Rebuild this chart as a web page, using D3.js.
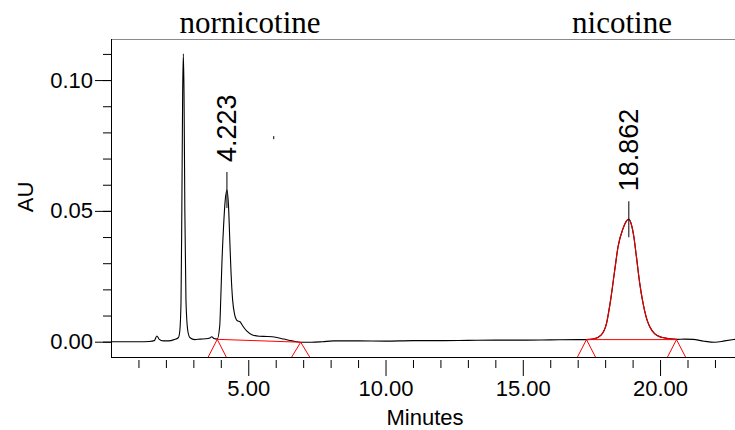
<!DOCTYPE html>
<html>
<head>
    <meta charset="utf-8">
    <style>
        body { margin: 0; background: white; }
        svg { display: block; background: white; }
        .axis text { font-family: 'Liberation Sans', Arial, sans-serif; font-size: 22px; fill: #000; }
        .axis line { stroke: #000; }
    </style>
</head>
<body>
    <svg width="735" height="430" id="chart"></svg>

<script src="https://d3js.org/d3.v7.min.js"></script>
<script>
    // chromatogram trace (minutes, AU)
    const times = [0.00, 0.50, 1.00, 1.40, 1.58, 1.67, 1.75, 1.90, 2.10, 2.30, 2.45, 2.50, 2.55, 2.58, 2.61, 2.635, 2.66, 2.69, 2.73, 2.80, 2.88,
        3.05, 3.25, 3.45, 3.60, 3.67, 3.75, 3.87, 3.96, 4.00, 4.04, 4.10, 4.16, 4.223, 4.28, 4.33, 4.37, 4.43, 4.50, 4.60, 4.70, 4.80, 4.95,
        5.15, 5.40, 5.70, 6.00, 6.30, 6.60, 6.91, 7.30, 7.70, 8.10, 9.00, 10.00, 11.00, 12.00, 13.00, 14.00, 15.00, 16.00, 17.00, 17.32,
        17.60, 17.85, 18.05, 18.20, 18.35, 18.47, 18.65, 18.78, 18.862, 18.95, 19.04, 19.14, 19.26, 19.38, 19.50, 19.62, 19.81, 20.05,
        20.30, 20.60, 20.90, 21.20, 21.60, 22.00, 22.35, 22.73]
    const absorb = [0.0000, 0.0000, 0.0000, 0.0001, 0.0004, 0.0022, 0.0010, 0.0003, 0.0003, 0.0008, 0.0015, 0.0035, 0.0150, 0.0500, 0.0950, 0.1100, 0.0950, 0.0500, 0.0160, 0.0040, 0.0015,
        0.0008, 0.0010, 0.0011, 0.0014, 0.0019, 0.0012, 0.0010, 0.0060, 0.0170, 0.0300, 0.0440, 0.0540, 0.0580, 0.0520, 0.0380, 0.0270, 0.0160, 0.0105, 0.0080, 0.0076, 0.0060, 0.0040,
        0.0026, 0.0021, 0.0020, 0.0017, 0.0010, 0.0003, -0.0002, -0.0002, 0.0000, 0.0003, 0.0003, 0.0002, 0.0004, 0.0004, 0.0005, 0.0006, 0.0006, 0.0007, 0.0008, 0.0008,
        0.0011, 0.0025, 0.0070, 0.0160, 0.0274, 0.0363, 0.0432, 0.0462, 0.0468, 0.0450, 0.0405, 0.0324, 0.0223, 0.0147, 0.0092, 0.0058, 0.0030, 0.0017,
        0.0012, 0.0009, 0.0010, 0.0009, 0.0002, -0.0002, 0.0003, 0.0009]

    // labelled peaks
    const peakTimes = [4.223, 18.862]
    const peakLabels = ["4.223", "18.862"]

    // integration baselines: start/end time and AU
    const baseStart = [3.87, 17.32]
    const baseEnd = [6.91, 20.60]
    const baseStartAU = [0.0009, 0.0008]
    const baseEndAU = [-0.0002, 0.0008]

    // compound names over the peaks
    const compoundNames = ["nornicotine", "nicotine"]

    const xMajorTicks = [5, 10, 15, 20]
    const xMinorTicks = d3.range(1, 23)
    const yMajorTicks = [0.00, 0.05, 0.10]
    const yMinorTicks = [0.00, 0.01, 0.02, 0.03, 0.04, 0.05, 0.06, 0.07, 0.08, 0.09, 0.10, 0.11]

    // stray dot printed on the original
    const strayMark = [5.91, 0.078]

    let data = times.map((t, i) => ({ t: t, v: absorb[i] }))

    let svg = d3.select("#chart")
    let margin = { top: 39, right: 0, bottom: 73, left: 111 },
        width = 735 - margin.left - margin.right,
        height = 430 - margin.top - margin.bottom

    let x = d3.scaleLinear()
        .domain([0, 22.73])
        .range([margin.left, margin.left + width])

    let y = d3.scaleLinear()
        .domain([-0.00585, 0.1157])
        .range([margin.top + height, margin.top])

    let bottom = margin.top + height

    // y axis: minor then major ticks
    svg.append("g")
        .attr("class", "axis")
        .attr("transform", `translate(${margin.left},0)`)
        .call(d3.axisLeft(y).tickValues(yMinorTicks).tickSize(8).tickFormat(""))
        .call(g => g.select(".domain").remove())

    svg.append("g")
        .attr("class", "axis")
        .attr("transform", `translate(${margin.left},0)`)
        .call(d3.axisLeft(y).tickValues(yMajorTicks).tickSize(16).tickPadding(2).tickFormat(d3.format(".2f")))
        .call(g => g.select(".domain").remove())

    // x axis: ticks hang a little below the frame
    svg.append("g")
        .attr("class", "axis")
        .attr("transform", `translate(0,${bottom})`)
        .call(d3.axisBottom(x).tickValues(xMinorTicks.filter(d => d % 5 != 0)).tickSize(11).tickFormat(""))
        .call(g => g.select(".domain").remove())
        .call(g => g.selectAll("line").attr("y1", 3))

    svg.append("g")
        .attr("class", "axis")
        .attr("transform", `translate(0,${bottom})`)
        .call(d3.axisBottom(x).tickValues(xMajorTicks).tickSize(19).tickPadding(4).tickFormat(d3.format(".2f")))
        .call(g => g.select(".domain").remove())
        .call(g => g.selectAll("line").attr("y1", 3))

    // frame
    svg.append("line")
        .attr("x1", margin.left).attr("x2", margin.left + width)
        .attr("y1", margin.top + 0.5).attr("y2", margin.top + 0.5)
        .style("stroke", "#8a8a8a")
    svg.append("line")
        .attr("x1", margin.left + 0.5).attr("x2", margin.left + 0.5)
        .attr("y1", margin.top).attr("y2", bottom)
        .style("stroke", "#000")
    svg.append("line")
        .attr("x1", margin.left).attr("x2", margin.left + width)
        .attr("y1", bottom + 0.5).attr("y2", bottom + 0.5)
        .style("stroke", "#000")

    let line = d3.line()
        .x(d => x(d.t))
        .y(d => y(d.v))
        .curve(d3.curveMonotoneX)

    // trace
    svg.append("path")
        .datum(data)
        .attr("d", line)
        .style("fill", "none")
        .style("stroke", "#000")
        .style("stroke-width", 1.1)

    // integrated nicotine peak drawn over in red
    svg.append("path")
        .datum(data.filter(d => d.t >= baseStart[1] && d.t <= baseEnd[1]))
        .attr("d", line)
        .style("fill", "none")
        .style("stroke", "#e00000")
        .style("stroke-width", 1.2)

    // baselines + triangle markers
    baseStart.forEach((s, i) => {
        svg.append("line")
            .attr("x1", x(s)).attr("y1", y(baseStartAU[i]))
            .attr("x2", x(baseEnd[i])).attr("y2", y(baseEndAU[i]))
            .style("stroke", "#ff0000")
            .style("stroke-width", 1)
        let ends = [[s, baseStartAU[i]], [baseEnd[i], baseEndAU[i]]]
        ends.forEach(e => {
            let cx = x(e[0]), cy = y(e[1])
            svg.append("path")
                .attr("d", `M${cx - 9},${bottom} L${cx},${cy} L${cx + 9},${bottom}`)
                .style("fill", "none")
                .style("stroke", "#ff0000")
                .style("stroke-width", 1)
        })
    })

    // peak tick and retention time label
    peakTimes.forEach((p, i) => {
        let v = absorb[times.indexOf(p)]
        let px = x(p), py = y(v)
        svg.append("line")
            .attr("x1", px).attr("x2", px)
            .attr("y1", py - 18).attr("y2", py + 18)
            .style("stroke", "#000")
            .style("stroke-width", 1)
        svg.append("text")
            .attr("transform", `translate(${px + 9},${py - 28}) rotate(-90)`)
            .text(peakLabels[i])
            .style("font-family", "'Liberation Sans', Arial, sans-serif")
            .style("font-size", "27px")
            .style("fill", "#000")
    })

    svg.append("rect")
        .attr("x", x(strayMark[0]))
        .attr("y", y(strayMark[1]) - 1.5)
        .attr("width", 1)
        .attr("height", 3)
        .style("fill", "#000")

    // compound names
    let nameX = [250, 622]
    compoundNames.forEach((n, i) => {
        svg.append("text")
            .attr("x", nameX[i])
            .attr("y", 33)
            .attr("text-anchor", "middle")
            .text(n)
            .style("font-family", "'Liberation Serif', 'Times New Roman', serif")
            .style("font-size", "31px")
            .style("fill", "#000")
    })

    // axis titles
    svg.append("text")
        .attr("x", 425)
        .attr("y", 425)
        .attr("text-anchor", "middle")
        .text("Minutes")
        .style("font-family", "'Liberation Sans', Arial, sans-serif")
        .style("font-size", "22px")

    svg.append("text")
        .attr("transform", "translate(33,197) rotate(-90)")
        .attr("text-anchor", "middle")
        .text("AU")
        .style("font-family", "'Liberation Sans', Arial, sans-serif")
        .style("font-size", "22px")
</script>
</body>
</html>
